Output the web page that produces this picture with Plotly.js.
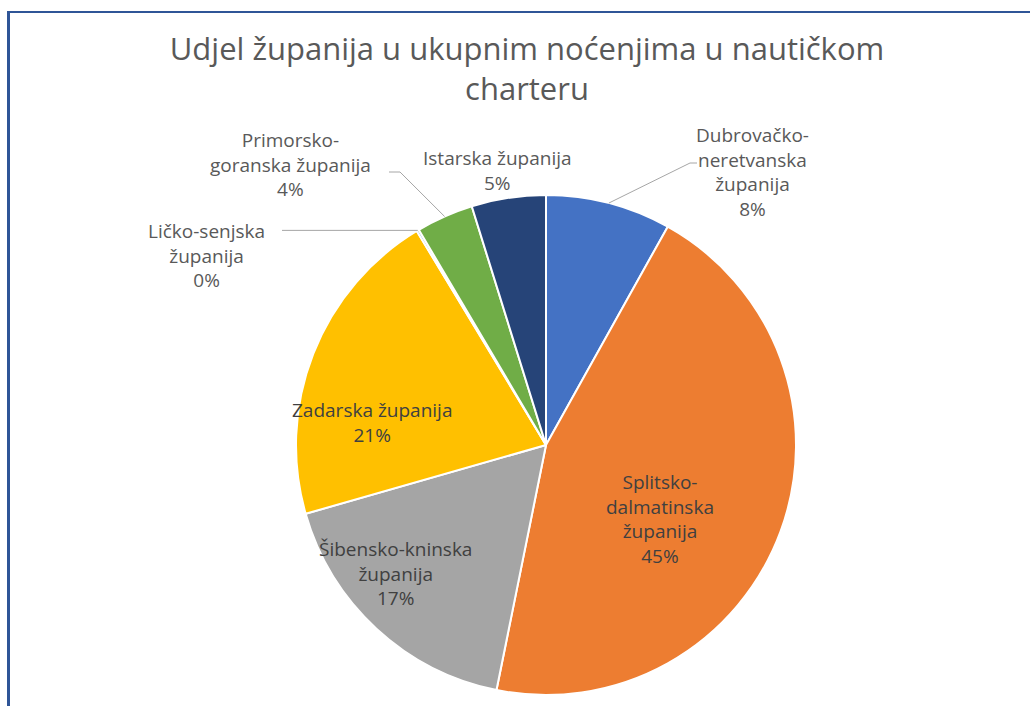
<!DOCTYPE html>
<html>
<head>
<meta charset="utf-8">
<script src="https://cdn.plot.ly/plotly-3.0.1.min.js"></script>
<style>
  html, body { margin: 0; padding: 0; background: #fff; }
  #chart { width: 1030px; height: 706px; }
  #frame { position: absolute; left: 7px; top: 11px; width: 1100px; height: 800px;
           border-top: 2px solid #2F5597; border-left: 3px solid #2F5597; pointer-events: none; }
</style>
</head>
<body>
<div id="chart"></div>
<div id="frame"></div>
<script>
const labels = ['Dubrovačko-neretvanska županija', 'Splitsko-dalmatinska županija', 'Šibensko-kninska županija',
                'Zadarska županija', 'Ličko-senjska županija', 'Primorsko-goranska županija', 'Istarska županija'];
const displayNames = ['Dubrovačko-<br>neretvanska<br>županija', 'Splitsko-<br>dalmatinska<br>županija',
                      'Šibensko-kninska<br>županija', 'Zadarska županija', 'Ličko-senjska<br>županija',
                      'Primorsko-<br>goranska županija', 'Istarska županija'];
const values = [8.1, 45.1, 17.4, 20.8, 0.15, 3.7, 4.8];
const colors = ['#4472C4', '#ED7D31', '#A5A5A5', '#FFC000', '#5B9BD5', '#70AD47', '#264478'];
const titleText = 'Udjel županija u ukupnim noćenjima u nautičkom<br>charteru';

const W = 1030, H = 706;
const M = {l: 296, r: 234, t: 195, b: 11};
const plotW = W - M.l - M.r, plotH = H - M.t - M.b;
const R = Math.min(plotW, plotH) / 2;
const CX = M.l + plotW / 2, CY = M.t + plotH / 2;
const px2x = X => (X - M.l) / plotW;
const px2y = Y => 1 - (Y - M.t) / plotH;

const total = values.reduce((a, b) => a + b, 0);
const pct = v => Math.round(v / total * 100) + '%';
// mid-angle (clockwise from 12 o'clock) of each slice
const midAngles = [];
let acc = 0;
values.forEach(v => { midAngles.push((acc + v / 2) / total * 2 * Math.PI); acc += v; });
const tip = i => [CX + R * Math.sin(midAngles[i]), CY - R * Math.cos(midAngles[i])];

// label placement (pixels), leader line elbow points
const labelPlacement = [
  {i: 0, tx: 752, ty: 172, color: '#595959', line: [[690, 163], [697, 163]]},
  {i: 6, tx: 497, ty: 171, color: '#595959', line: null},
  {i: 5, tx: 290, ty: 165, color: '#595959', line: [[400, 172], [389, 172]]},
  {i: 4, tx: 206, ty: 255, color: '#595959', line: 'h'},
  {i: 1, tx: 660, ty: 519, color: '#404040', line: null},
  {i: 2, tx: 395, ty: 573, color: '#404040', line: null},
  {i: 3, tx: 372, ty: 422, color: '#404040', line: null}
];

const annotations = [];
const shapes = [];
const lineStyle = {color: '#A6A6A6', width: 1};
labelPlacement.forEach(o => {
  annotations.push({
    xref: 'paper', yref: 'paper', x: px2x(o.tx), y: px2y(o.ty),
    xanchor: 'center', yanchor: 'middle', showarrow: false, align: 'center',
    text: displayNames[o.i] + '<br>' + pct(values[o.i]),
    font: {family: 'Open Sans, sans-serif', size: 19, color: o.color}
  });
  if (!o.line) return;
  const p0 = tip(o.i);
  let pts;
  if (o.line === 'h') pts = [p0, [282, p0[1]]];
  else pts = [p0].concat(o.line);
  for (let k = 0; k < pts.length - 1; k++) {
    shapes.push({type: 'line', xref: 'paper', yref: 'paper',
      x0: px2x(pts[k][0]), y0: px2y(pts[k][1]), x1: px2x(pts[k + 1][0]), y1: px2y(pts[k + 1][1]),
      line: lineStyle});
  }
});

const trace = {
  type: 'pie',
  labels: labels,
  values: values,
  sort: false,
  direction: 'clockwise',
  rotation: 0,
  marker: {colors: colors, line: {color: '#FFFFFF', width: 2}},
  textinfo: 'none',
  hoverinfo: 'none',
  showlegend: false
};

const layout = {
  width: W, height: H,
  margin: M,
  paper_bgcolor: '#FFFFFF',
  title: {
    text: titleText,
    font: {family: 'Open Sans, sans-serif', size: 31, color: '#595959'},
    x: 527 / W, xref: 'container', xanchor: 'center',
    y: 1 - 60 / H, yref: 'container', yanchor: 'top'
  },
  annotations: annotations,
  shapes: shapes,
  showlegend: false
};

Plotly.newPlot('chart', [trace], layout, {displayModeBar: false, staticPlot: true});
</script>
</body>
</html>
